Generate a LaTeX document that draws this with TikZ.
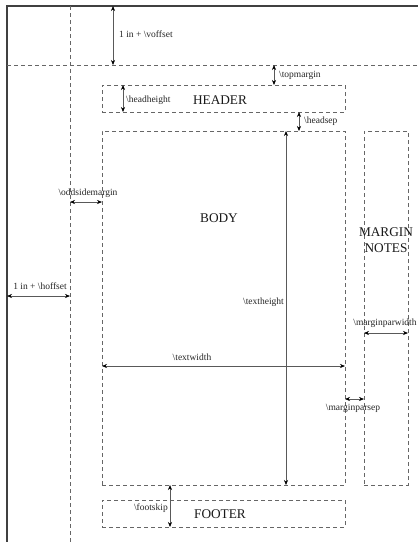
\documentclass[tikz,border=0pt]{standalone}
\usepackage{fontspec}
\setmainfont{Liberation Serif}
\usetikzlibrary{arrows.meta}
\begin{document}
\begin{tikzpicture}[x=1pt,y=-1pt,
  dashline/.style={draw=black!60,line width=0.7pt,dash pattern=on 4pt off 3pt},
  dashbox/.style={dashline,rectangle,inner sep=0pt,outer sep=0pt},
  dimarrow/.style={draw=black!65,line width=0.6pt,{Stealth[length=5pt,width=4pt,black]}-{Stealth[length=5pt,width=4pt,black]}},
  lbl/.style={font=\fontsize{9.5}{11}\selectfont,text=black!85,inner sep=0pt},
  big/.style={font=\fontsize{13.3}{16}\selectfont,text=black!90,inner sep=0pt,align=center}]
\useasboundingbox (0,0) rectangle (418,542);
\fill[white] (0,0) rectangle (418,542);
% page frame
\coordinate (pagebl) at (7,542);
\coordinate (pagetl) at (7,6);
\coordinate (pagetr) at (418,6);
\draw[black!75,line width=1.6pt] (pagebl) -- (pagetl) -- (pagetr);
% reference lines
\coordinate (hl) at (7,65);
\coordinate (hr) at (418,65);
\coordinate (vt) at (70,6);
\coordinate (vb) at (70,542);
\draw[dashline] (hl) -- (hr);
\draw[dashline] (vt) -- (vb);
% boxes
\node[dashbox,minimum width=243pt,minimum height=27pt] (header) at (223.5,98.5) {};
\node[dashbox,minimum width=243pt,minimum height=354pt] (body) at (223.5,308) {};
\node[dashbox,minimum width=44pt,minimum height=354pt] (margin) at (386,308) {};
\node[dashbox,minimum width=243pt,minimum height=27pt] (footer) at (223.5,513.5) {};
% box texts
\node[big] (headertxt) at (220,100) {HEADER};
\node[big] (bodytxt) at (219,218) {BODY};
\node[big] (margintxt) at (386,240) {MARGIN\\NOTES};
\node[big] (footertxt) at (220,514) {FOOTER};
% coordinates for free ends
\coordinate (voffT) at (113,6);
\coordinate (voffB) at (113,65);
\coordinate (tmT) at (274,65);
\coordinate (hoffL) at (7,296);
\coordinate (hoffR) at (70,296);
\coordinate (oddL) at (70,202);
% dimension arrows
\draw[dimarrow] (voffT) -- (voffB);
\draw[dimarrow] (tmT) -- (tmT |- header.north);
\draw[dimarrow] ([xshift=21pt]header.north west) -- ([xshift=21pt]header.south west);
\draw[dimarrow] ([xshift=75.5pt]header.south) -- ([xshift=75.5pt]body.north);
\draw[dimarrow] ([xshift=62.5pt]body.north) -- ([xshift=62.5pt]body.south);
\draw[dimarrow] ([yshift=-58pt]body.west) -- ([yshift=-58pt]body.east);
\draw[dimarrow] (oddL) -- (oddL -| body.west);
\draw[dimarrow] (hoffL) -- (hoffR);
\draw[dimarrow] ([yshift=-25pt]margin.west) -- ([yshift=-25pt]margin.east);
\draw[dimarrow] ([yshift=-91pt]body.east) -- ([yshift=-91pt]body.east -| margin.west);
\draw[dimarrow] ([xshift=-53.5pt]body.south) -- ([xshift=-53.5pt]footer.south);
% labels
\node[lbl,anchor=west] (voffl) at (119,34) {1 in + \textbackslash voffset};
\node[lbl,anchor=west] (tml) at (279,75) {\textbackslash topmargin};
\node[lbl,anchor=west] (hhl) at (126,100) {\textbackslash headheight};
\node[lbl,anchor=west] (hsl) at (304,121) {\textbackslash headsep};
\node[lbl] (oddl) at (88,193) {\textbackslash oddsidemargin};
\node[lbl,anchor=east] (thl) at (284,302) {\textbackslash textheight};
\node[lbl] (hoffl) at (40,286) {1 in + \textbackslash hoffset};
\node[lbl] (mpwl) at (385,323) {\textbackslash marginparwidth};
\node[lbl] (twl) at (192,357) {\textbackslash textwidth};
\node[lbl] (mpsl) at (353,408) {\textbackslash marginparsep};
\node[lbl,anchor=east] (fsl) at (168,508) {\textbackslash footskip};
\end{tikzpicture}
\end{document}
